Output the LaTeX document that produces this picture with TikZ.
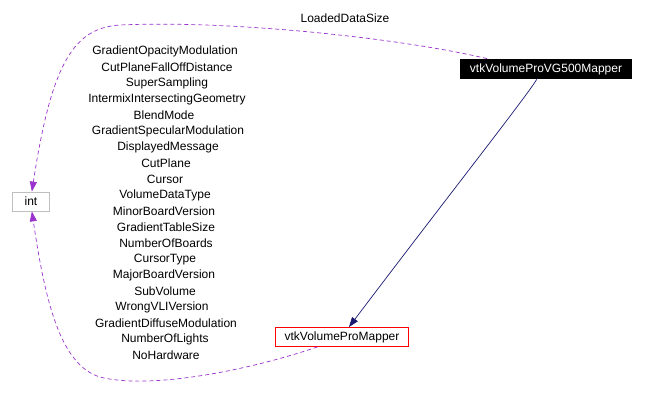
\documentclass[tikz,border=0pt]{standalone}
\usepackage{fontspec}
\setmainfont{Liberation Sans}
\usetikzlibrary{arrows.meta}
\definecolor{edgepurple}{HTML}{9A32CD}
\definecolor{edgeblue}{HTML}{191970}
\definecolor{boxgray}{HTML}{BFBFBF}
\tikzset{
  lbl/.style={font=\fontsize{12}{13}\selectfont, inner sep=0pt, anchor=center},
  box/.style={font=\fontsize{12}{13}\selectfont, inner sep=0pt, line width=0.8pt},
  usage/.style={draw=edgepurple, dashed, dash pattern=on 4pt off 3pt, line width=0.7pt, -{Triangle[length=10pt,width=7pt]}},
  inherit/.style={draw=edgeblue, line width=0.7pt, -{Triangle[length=10pt,width=7pt]}}
}
\begin{document}
\begin{tikzpicture}[x=1pt,y=-1pt]
\useasboundingbox (0,0) rectangle (645,409);
\node[box, draw=boxgray, minimum width=37pt, minimum height=19pt] (int) at (31,201.5) {int};
\node[box, fill=black, text=white, minimum width=172pt, minimum height=20pt] (vg) at (546,69) {vtkVolumeProVG500Mapper};
\node[box, draw=red, minimum width=133pt, minimum height=19pt] (pm) at (342,337) {vtkVolumeProMapper};

\draw[inherit] (vg.228) .. controls (530,92) and (445,200) .. (pm.55);

\draw[usage] (vg.170) .. controls (400,38) and (230,20) .. (120,25) .. controls (75,28) and (52,60) .. (int.85);
\draw[usage] (pm.202) .. controls (250,370) and (150,390) .. (100,377) .. controls (60,365) and (45,300) .. (int.275);

\node[lbl] (l0) at (345,18) {LoadedDataSize};
\node[lbl] (l1) at (165,51) {GradientOpacityModulation};
\node[lbl] (l2) at (167,67) {CutPlaneFallOffDistance};
\node[lbl] (l3) at (167,83) {SuperSampling};
\node[lbl] (l4) at (167,99.5) {IntermixIntersectingGeometry};
\node[lbl] (l5) at (164,115.5) {BlendMode};
\node[lbl] (l6) at (168,131.5) {GradientSpecularModulation};
\node[lbl] (l7) at (168,147.5) {DisplayedMessage};
\node[lbl] (l8) at (166,163.5) {CutPlane};
\node[lbl] (l9) at (165,179.5) {Cursor};
\node[lbl] (l10) at (165,195.5) {VolumeDataType};
\node[lbl] (l11) at (164,211.5) {MinorBoardVersion};
\node[lbl] (l12) at (166,227.5) {GradientTableSize};
\node[lbl] (l13) at (166,243.5) {NumberOfBoards};
\node[lbl] (l14) at (165,259.5) {CursorType};
\node[lbl] (l15) at (164,275.5) {MajorBoardVersion};
\node[lbl] (l16) at (165,291.5) {SubVolume};
\node[lbl] (l17) at (162,307.5) {WrongVLIVersion};
\node[lbl] (l18) at (166,323.5) {GradientDiffuseModulation};
\node[lbl] (l19) at (165,339.5) {NumberOfLights};
\node[lbl] (l20) at (166,355.5) {NoHardware};
\end{tikzpicture}
\end{document}
